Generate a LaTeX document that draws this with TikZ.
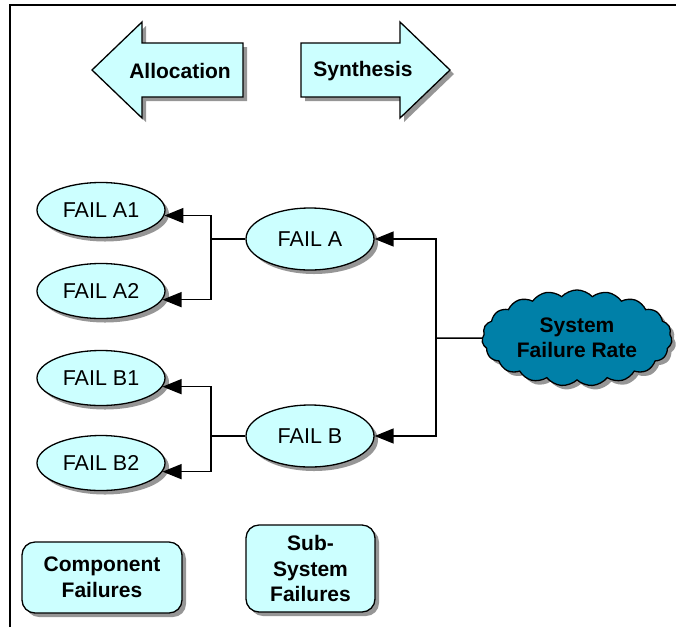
\documentclass[tikz,border=0pt]{standalone}
\usepackage{fontspec}
\setmainfont{Liberation Sans}
\usetikzlibrary{shapes.geometric,shapes.symbols,shadows,arrows.meta}
\definecolor{lcyan}{HTML}{CCFFFF}
\definecolor{cloudblue}{RGB}{0,128,168}
\definecolor{shadowgray}{RGB}{150,150,150}
\begin{document}
\begin{tikzpicture}[x=1pt,y=-1pt,
  shad/.style={drop shadow={shadow xshift=4pt,shadow yshift=-4pt,fill=shadowgray,opacity=1}},
  failnode/.style={ellipse,draw,line width=1.3pt,fill=lcyan,shad,inner sep=0pt,
    minimum width=128pt,minimum height=55pt,font=\fontsize{21.5}{24}\selectfont},
  boldtext/.style={font=\bfseries\fontsize{21}{25.5}\selectfont,align=center},
  blockarrow/.style={draw,line width=1.3pt,fill=lcyan,shad},
  labelbox/.style={draw,line width=1.3pt,fill=lcyan,shad,rounded corners=13pt,
    boldtext,inner sep=0pt},
  conn/.style={line width=1.5pt},
  arr/.style={line width=1.5pt,-{Triangle[length=19pt,width=15pt]}}
]
\useasboundingbox (0,0) rectangle (676,627);
% frame
\draw[line width=2pt] (10,627) -- (10,5) -- (676,5);

% block arrows
\path[blockarrow] (92,70) -- (142,22) -- (142,43) -- (243,43) -- (243,97)
  -- (142,97) -- (142,118) -- cycle;
\node[boldtext] (alloc) at (180,71) {Allocation};
\path[blockarrow] (301,43) -- (400,43) -- (400,22) -- (450,70) -- (400,118)
  -- (400,97) -- (301,97) -- cycle;
\node[boldtext] (synth) at (363,71) {Synthesis};

% ellipses
\node[failnode] (A1) at (101,210) {FAIL A1};
\node[failnode] (A2) at (101,291) {FAIL A2};
\node[failnode] (B1) at (101,378) {FAIL B1};
\node[failnode] (B2) at (101,463) {FAIL B2};
\node[failnode,minimum height=62pt] (A) at (310,239) {FAIL A};
\node[failnode,minimum height=62pt] (B) at (310,436) {FAIL B};

% cloud
\node[cloud,cloud puffs=19,cloud puff arc=95,aspect=2,draw,line width=1.3pt,
  fill=cloudblue,shad,minimum width=190pt,minimum height=94pt,inner sep=0pt,
  boldtext] (S) at (577,338) {System\\Failure Rate};

% junctions
\coordinate (jA) at (211,239);
\coordinate (jB) at (211,436);
\coordinate (jS) at (436,338);

\draw[conn] (A.west) -- (jA);
\draw[arr] (jA) |- (A1.-5);
\draw[arr] (jA) |- (A2.-8);
\draw[conn] (B.west) -- (jB);
\draw[arr] (jB) |- (B1.-8);
\draw[arr] (jB) |- (B2.-8);
\draw[conn] (S.west) -- (jS);
\draw[arr] (jS) |- (A.east);
\draw[arr] (jS) |- (B.east);

% legend boxes
\node[labelbox,minimum width=160pt,minimum height=71pt] (comp) at (102,577.5)
  {Component\\Failures};
\node[labelbox,minimum width=129pt,minimum height=87pt] (sub) at (310.5,568.5)
  {Sub-\\System\\Failures};
\end{tikzpicture}
\end{document}
